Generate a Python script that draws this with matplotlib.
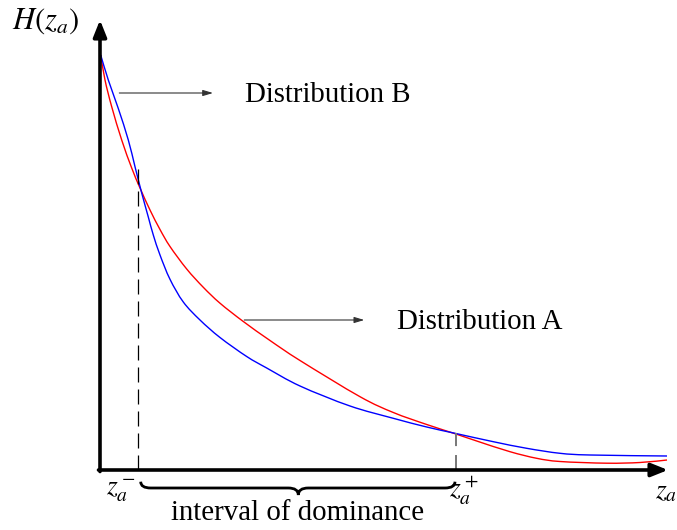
import numpy as np
import matplotlib
matplotlib.use('Agg')
import matplotlib.pyplot as plt
from matplotlib.path import Path
from matplotlib.patches import PathPatch

plt.rcParams['mathtext.fontset'] = 'stix'
plt.rcParams['font.family'] = ['Liberation Serif', 'DejaVu Serif']

# curve values (x from the origin, y above the axis)
red_x = [0.7, 5, 11.7, 21.7, 31.7, 40, 50, 60, 70, 86.7, 103.3, 120, 143.3, 170, 200,
         260, 293.3, 326.7, 355, 376.7, 410, 436.7, 460, 506.7, 540, 567]
red_y = [415, 390, 363.3, 330, 302, 282, 260, 240.5, 223.5, 201, 182.7, 166.8, 148.5, 129.5, 109.5,
         73.3, 57.5, 45.5, 36.3, 29, 18.3, 11.7, 8.5, 6.8, 7.5, 10]

blue_x = [0.7, 8.3, 18.3, 28.3, 35, 41.7, 48.3, 53.3, 60, 70, 83.3, 100, 120, 146.7,
          166.7, 200, 250, 293.3, 326.7, 355, 393.3, 426.7, 460, 490, 567]
blue_y = [415, 390, 361.5, 330, 303.3, 277, 253, 235, 215, 190.7, 168, 150, 132.5, 113.5,
          102, 84, 64, 51.7, 43, 36.7, 28.3, 21.7, 16.7, 15, 14]

z_minus = 38.3   # left crossing
z_plus = 356     # right crossing
h_minus = 302
h_plus = 37


def smooth_path(xs, ys):
    # catmull-rom through the read points, drawn as bezier pieces
    p = np.column_stack([xs, ys]).astype(float)
    p = np.vstack([p[0], p, p[-1]])
    verts = [tuple(p[1])]
    codes = [Path.MOVETO]
    for i in range(1, len(p) - 2):
        c1 = p[i] + (p[i + 1] - p[i - 1]) / 6
        c2 = p[i + 1] - (p[i + 2] - p[i]) / 6
        verts += [tuple(c1), tuple(c2), tuple(p[i + 1])]
        codes += [Path.CURVE4] * 3
    return Path(verts, codes)


fig = plt.figure(figsize=(6.77, 5.30), dpi=100)
ax = fig.add_axes([0, 0, 1, 1])
ax.set_xlim(-100, 577)
ax.set_ylim(-60, 470)
ax.axis('off')

# axes with arrows
arr = dict(arrowstyle='-|>,head_length=0.5,head_width=0.2', lw=2.6, color='k',
           shrinkA=0, shrinkB=0, mutation_scale=20)
ax.annotate('', xy=(0, 450), xytext=(0, -1.5), arrowprops=arr)
ax.annotate('', xy=(568, 0), xytext=(-1.5, 0), arrowprops=arr)

# curves
ax.add_patch(PathPatch(smooth_path(red_x, red_y), fill=False, color='#ff0000', lw=1.0))
ax.add_patch(PathPatch(smooth_path(blue_x, blue_y), fill=False, color='#0000ff', lw=1.0))

# dashed guides
ax.plot([z_minus, z_minus], [0, h_minus], color='k', lw=0.9, dashes=(12, 5.6))
ax.plot([z_plus, z_plus], [0, h_plus], color='#777777', lw=1.4, dashes=(7.7, 4.6))

# labels with arrows
small = dict(arrowstyle='-|>,head_length=0.5,head_width=0.15', lw=0.8, color='#333333',
             shrinkA=0, shrinkB=0, mutation_scale=12)
ax.annotate('', xy=(113, 377), xytext=(19.3, 377), arrowprops=small)
ax.annotate('', xy=(264.3, 150), xytext=(144.3, 150), arrowprops=small)
ax.text(145, 368.3, 'Distribution B', fontsize=20.8, va='baseline', ha='left')
ax.text(296.7, 141, 'Distribution A', fontsize=20.8, va='baseline', ha='left')

ax.text(-54, 449, r'$H(z_a)$', fontsize=22, ha='center', va='center')
ax.text(21, -25, r'$z_a^-$', fontsize=20, ha='center', va='baseline')
ax.text(364, -28, r'$z_a^+$', fontsize=20, ha='center', va='baseline')
ax.text(555, -28, r'$z_a$', fontsize=20, ha='left', va='baseline')

# brace under the interval
bl, br, tip = 40.7, 355, 198.3
top, mid, low = -11.7, -18, -25
verts = [(bl, top), (bl, mid), (bl + 10, mid),
         (tip - 10, mid), (tip, mid), (tip, low),
         (tip, mid), (tip + 10, mid),
         (br - 10, mid), (br, mid), (br, top)]
codes = [Path.MOVETO, Path.CURVE3, Path.CURVE3,
         Path.LINETO, Path.CURVE3, Path.CURVE3,
         Path.CURVE3, Path.CURVE3,
         Path.LINETO, Path.CURVE3, Path.CURVE3]
ax.add_patch(PathPatch(Path(verts, codes), fill=False, lw=2.0, color='k'))
ax.text(tip - 0.8, -50, 'interval of dominance', fontsize=20.8, ha='center', va='baseline')

fig.savefig('out.png', dpi=100)
